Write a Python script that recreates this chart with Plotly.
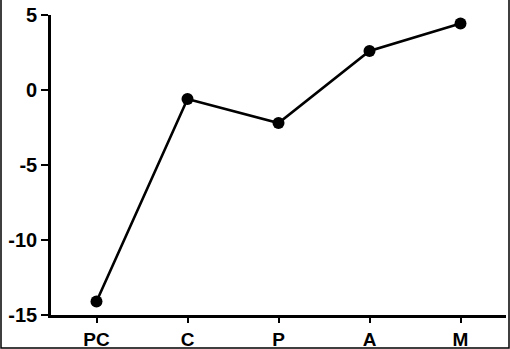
import plotly.graph_objects as go

categories = ["PC", "C", "P", "A", "M"]
values = [-14.1, -0.6, -2.2, 2.6, 4.43]
y_ticks = [5, 0, -5, -10, -15]

fig = go.Figure()
fig.add_trace(go.Scatter(
    x=categories, y=values, mode="lines+markers",
    line=dict(color="black", width=2.6),
    marker=dict(color="black", size=12),
    showlegend=False, cliponaxis=False,
))

W, H = 510, 349
L, R, T, B = 51, 4, 15, 34
pw, ph = W - L - R, H - T - B

yfont = dict(family="Liberation Sans, Arial, sans-serif", size=20, color="black", weight="bold")
xfont = dict(family="Liberation Sans, Arial, sans-serif", size=19, color="black", weight="bold")

fig.update_layout(
    width=W, height=H,
    margin=dict(l=L, r=R, t=T, b=B, pad=0, autoexpand=False),
    paper_bgcolor="white", plot_bgcolor="white",
    font=yfont,
    xaxis=dict(
        type="category", range=[-0.5, 4.5], automargin=False,
        showline=True, linecolor="black", linewidth=2.6,
        ticks="outside", ticklen=5, tickwidth=2, tickcolor="black",
        showgrid=False, zeroline=False, tickfont=xfont,
    ),
    yaxis=dict(
        range=[-15, 5], tickvals=y_ticks, ticktext=[str(v) for v in y_ticks],
        automargin=False,
        showline=True, linecolor="black", linewidth=2.6,
        ticks="outside", ticklen=7, tickwidth=2, tickcolor="black",
        showgrid=False, zeroline=False, tickfont=yfont,
    ),
    shapes=[dict(
        type="rect", xref="paper", yref="paper",
        x0=(1 - L) / pw, x1=(W - 1 - L) / pw,
        y0=-(B - 1) / ph, y1=(H - 1 - T) / ph,
        line=dict(color="black", width=1.5), layer="above",
    )],
)

fig.write_html(
    "out.html",
    config={"displayModeBar": False},
    post_script="document.body.style.margin='0';document.body.style.overflow='hidden';",
)
